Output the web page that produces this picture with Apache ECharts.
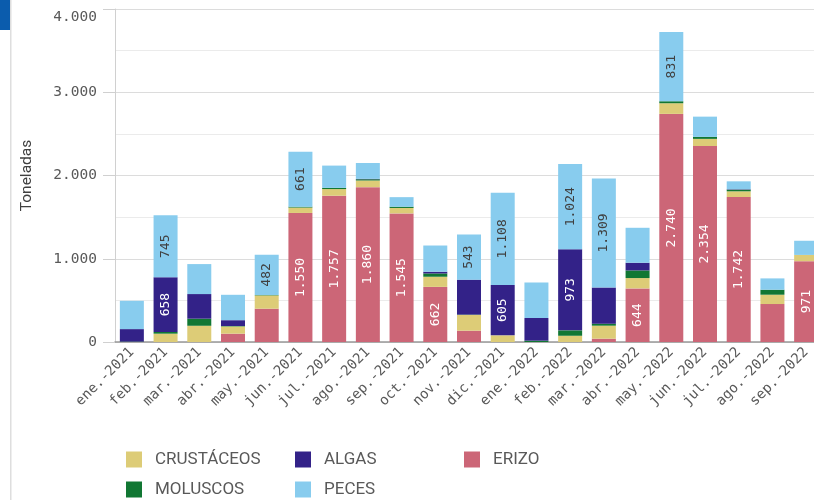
<!DOCTYPE html>
<html lang="es">
<head>
    <meta charset="UTF-8">
    <script src="https://cdn.jsdelivr.net/npm/echarts@6.0.0/dist/echarts.min.js"></script>
    <title>Toneladas por mes</title>
    <style>
        html, body { margin: 0; padding: 0; overflow: hidden; background: #fff; }
        #chart { width: 823px; height: 500px; }
    </style>
</head>
<body>
    <div id="chart"></div>
    <script>
        // meses
        const meses = ['ene.-2021', 'feb.-2021', 'mar.-2021', 'abr.-2021', 'may.-2021', 'jun.-2021', 'jul.-2021',
            'ago.-2021', 'sep.-2021', 'oct.-2021', 'nov.-2021', 'dic.-2021', 'ene.-2022', 'feb.-2022', 'mar.-2022',
            'abr.-2022', 'may.-2022', 'jun.-2022', 'jul.-2022', 'ago.-2022', 'sep.-2022'];

        // toneladas por recurso
        const erizo = [0, 0, 0, 100, 400, 1550, 1757, 1860, 1545, 662, 136, 0, 0, 0, 40, 644, 2740, 2354, 1742, 456, 971];
        const crustaceos = [0, 100, 195, 87, 160, 65, 80, 80, 65, 122, 188, 80, 0, 75, 156, 124, 128, 86, 68, 112, 75];
        const moluscos = [5, 20, 85, 5, 5, 10, 15, 15, 15, 39, 5, 0, 16, 65, 24, 92, 24, 24, 20, 60, 0];
        const algas = [150, 658, 296, 70, 0, 0, 0, 5, 0, 21, 420, 605, 272, 973, 436, 92, 0, 0, 5, 0, 0];
        const peces = [340, 745, 360, 305, 482, 661, 267, 190, 115, 315, 543, 1108, 428, 1024, 1309, 420, 831, 243, 95, 136, 170];

        const yTicks = [0, 1000, 2000, 3000, 4000];

        const mono = 'DejaVu Sans Mono';
        const miles = v => String(v).replace(/\B(?=(\d{3})+(?!\d))/g, '.');

        // solo se etiqueta el segmento si cabe el texto
        function serie(name, data, color, labelColor) {
            return {
                name: name,
                type: 'bar',
                stack: 'total',
                barWidth: 24,
                data: data,
                itemStyle: { color: color },
                label: {
                    show: true,
                    position: 'inside',
                    rotate: 90,
                    fontFamily: mono,
                    fontSize: 13,
                    color: labelColor,
                    formatter: p => p.value >= 470 ? miles(p.value) : ''
                }
            };
        }

        const legendText = { fontFamily: 'Roboto', fontSize: 17, color: '#595959', padding: [0, 0, 0, 8], lineHeight: 16 };
        const yMax = yTicks[yTicks.length - 1];

        const chart = echarts.init(document.getElementById('chart'));
        chart.setOption({
            animation: false,
            grid: { left: 115, right: 0, top: 9, bottom: 158 },
            legend: [
                { data: ['CRUSTÁCEOS', 'MOLUSCOS'], left: 126, top: 451, orient: 'vertical' },
                { data: ['ALGAS', 'PECES'], left: 295, top: 451, orient: 'vertical' },
                { data: ['ERIZO'], left: 464, top: 451, orient: 'vertical' }
            ].map(l => Object.assign(l, {
                icon: 'rect', itemWidth: 16, itemHeight: 16, itemGap: 13, padding: 0,
                textStyle: legendText, selectedMode: false
            })),
            xAxis: {
                type: 'category',
                data: meses,
                axisLine: { lineStyle: { color: '#999', width: 1.5 } },
                axisTick: { show: false },
                axisLabel: { rotate: 45, interval: 0, margin: 8, fontFamily: mono, fontSize: 14, color: '#595959' }
            },
            yAxis: {
                type: 'value',
                min: yTicks[0],
                max: yMax,
                interval: 1000,
                name: 'Toneladas',
                nameLocation: 'middle',
                nameGap: 80,
                nameTextStyle: { fontFamily: 'Roboto', fontSize: 15.5, color: '#404040' },
                axisLine: { show: true, lineStyle: { color: '#d0d0d0' } },
                axisTick: { show: true, length: 12, lineStyle: { color: '#d0d0d0' } },
                axisLabel: {
                    margin: 18, fontFamily: mono, fontSize: 14.5, color: '#595959',
                    // la etiqueta superior va un poco más abajo
                    formatter: v => v === yMax ? '{top|' + miles(v) + '}' : miles(v),
                    rich: { top: { fontFamily: mono, fontSize: 14.5, color: '#595959', padding: [16, 0, 0, 0] } }
                },
                splitLine: { lineStyle: { color: '#dcdcdc' } },
                minorTick: { show: false, splitNumber: 2 },
                minorSplitLine: { show: true, lineStyle: { color: '#ebebeb' } }
            },
            graphic: [
                { type: 'rect', left: 0, top: 0, shape: { width: 10, height: 30 }, style: { fill: '#0b5cad' } },
                { type: 'rect', left: 10, top: 0, shape: { width: 1.5, height: 500 }, style: { fill: '#dedede' } }
            ],
            series: [
                serie('ERIZO', erizo, '#cc6677', '#fff'),
                serie('CRUSTÁCEOS', crustaceos, '#ddcc77', '#fff'),
                serie('MOLUSCOS', moluscos, '#117733', '#fff'),
                serie('ALGAS', algas, '#332288', '#fff'),
                serie('PECES', peces, '#88ccee', '#404040')
            ]
        });
    </script>
</body>
</html>
